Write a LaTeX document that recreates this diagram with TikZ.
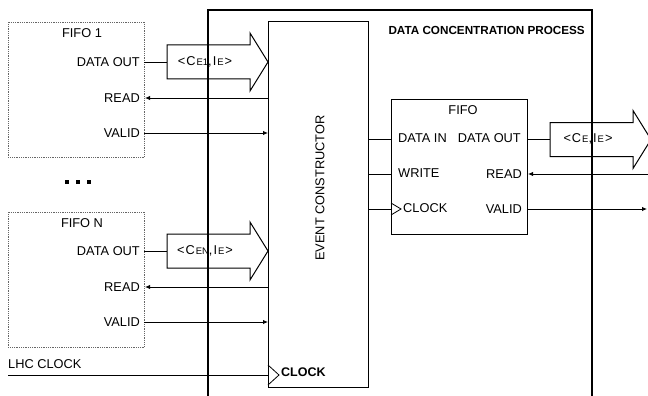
\documentclass[tikz,border=0pt]{standalone}
\usepackage{fontspec}
\setmainfont{Liberation Sans}
\usetikzlibrary{arrows.meta}
\newcommand{\smallsub}[1]{{\fontsize{9.5}{10}\selectfont #1}}
\newcommand{\kk}{\kern1pt}
\begin{document}
\begin{tikzpicture}[x=1pt,y=-1pt,
  font=\fontsize{12.8}{14}\selectfont,
  box/.style={draw, line width=1pt, inner sep=0pt},
  dotbox/.style={draw=black!60, dash pattern=on 1pt off 0.8pt, line width=0.8pt, inner sep=0pt},
  sig/.style={line width=0.9pt},
  arr/.style={sig, -{Latex[length=5pt,width=4.5pt]}},
  fat/.style={draw, line width=1pt},
  lbl/.style={inner sep=0pt},
  fatarrow/.pic={\draw[fat] (0,-17) -- (83,-17) -- (83,-29) -- (101,0) -- (83,29) -- (83,17) -- (0,17) -- cycle;},
  dotsq/.style={fill=black, minimum size=4pt, inner sep=0pt}]
\useasboundingbox (0,0) rectangle (648,396);

% ---------- source FIFOs ----------
\node[dotbox, minimum width=136pt, minimum height=135pt, anchor=north west] (f1) at (8,22) {};
\node[dotbox, minimum width=136pt, minimum height=135pt, anchor=north west] (fN) at (8,212) {};

\node[lbl] (f1t) at (82,33) {FIFO 1};
\node[lbl, anchor=east] (f1d) at (140,62) {DATA OUT};
\node[lbl, anchor=east] (f1r) at (140,98) {READ};
\node[lbl, anchor=east] (f1v) at (140,133) {VALID};

\node[lbl] (fNt) at (82,223) {FIFO N};
\node[lbl, anchor=east] (fNd) at (140,251) {DATA OUT};
\node[lbl, anchor=east] (fNr) at (140,287) {READ};
\node[lbl, anchor=east] (fNv) at (140,322) {VALID};

\node[dotsq] (d1) at (67,182) {};
\node[dotsq] (d2) at (78,182) {};
\node[dotsq] (d3) at (89,182) {};

% ---------- event constructor ----------
\node[box, minimum width=100pt, minimum height=366pt, anchor=north west] (ec) at (268,21) {};
\node[lbl, rotate=90] (ect) at (320,188) {EVENT CONSTRUCTOR};
\node[lbl, anchor=base west, font=\bfseries\fontsize{12.5}{14}\selectfont] (ecclk) at (281,376) {CLOCK};
\draw[line width=0.8pt] (268,365) -- (279,375) -- (268,385);

% ---------- FIFO ----------
\node[box, minimum width=136pt, minimum height=135pt, anchor=north west] (fifo) at (391,99) {};
\node[lbl] (fifot) at (463,110) {FIFO};
\node[lbl, anchor=west] (fdin) at (398,138) {DATA IN};
\node[lbl, anchor=east] (fdout) at (521,138) {DATA OUT};
\node[lbl, anchor=west] (fwr) at (398,173) {WRITE};
\node[lbl, anchor=east] (frd) at (522,174) {READ};
\node[lbl, anchor=west] (fclk) at (403,208) {CLOCK};
\node[lbl, anchor=east] (fval) at (522,209) {VALID};
\draw[line width=0.8pt] (391,203) -- (401,209) -- (391,215);

% ---------- fat data arrows ----------
\pic at (167,62) {fatarrow};
\pic at (167,251) {fatarrow};
\pic at (550,139.5) {fatarrow};
\node[lbl] (a1) at (205,62) {<\kk C\kk\smallsub{E1},\kk I\kk\smallsub{E}\kk>};
\node[lbl] (aN) at (205,251) {<\kk C\kk\smallsub{EN},\kk I\kk\smallsub{E}\kk>};
\node[lbl] (ao) at (588,139) {<\kk C\kk\smallsub{E},\kk I\kk\smallsub{E}\kk>};

% ---------- coordinates ----------
\coordinate (f1out) at (144,62);  \coordinate (a1in) at (167,62);
\coordinate (fNout) at (144,251); \coordinate (aNin) at (167,251);
\coordinate (f1rd) at (145,98);   \coordinate (ecr1) at (268,98);
\coordinate (f1vl) at (144,133);  \coordinate (ecv1) at (268,133);
\coordinate (fNrd) at (145,287);  \coordinate (ecrN) at (268,287);
\coordinate (fNvl) at (144,322);  \coordinate (ecvN) at (268,322);
\coordinate (lhc) at (8,375);     \coordinate (ecck) at (268,375);
\coordinate (ecdo) at (368,139);  \coordinate (fdi) at (391,139);
\coordinate (ecwr) at (368,174);  \coordinate (fwi) at (391,174);
\coordinate (ecco) at (368,209);  \coordinate (fci) at (391,209);
\coordinate (fdo) at (527,139);   \coordinate (aoin) at (550,139);
\coordinate (frdp) at (528,174);  \coordinate (rdext) at (648,174);
\coordinate (fvlp) at (527,209);  \coordinate (vlext) at (647,209);

% ---------- connectors ----------
\draw[sig] (f1out) -- (a1in);
\draw[sig] (fNout) -- (aNin);
\draw[arr] (ecr1) -- (f1rd);
\draw[arr] (f1vl) -- (ecv1);
\draw[arr] (ecrN) -- (fNrd);
\draw[arr] (fNvl) -- (ecvN);
\draw[sig] (lhc) -- (ecck);
\node[lbl, anchor=west] (lhct) at (8,364) {LHC CLOCK};
\draw[sig] (ecdo) -- (fdi);
\draw[sig] (ecwr) -- (fwi);
\draw[sig] (ecco) -- (fci);
\draw[sig] (fdo) -- (aoin);
\draw[arr] (rdext) -- (frdp);
\draw[arr] (fvlp) -- (vlext);

% ---------- process frame ----------
\draw[line width=1.6pt] (208,396) -- (208,10) -- (592,10) -- (592,396);
\node[lbl, anchor=east, font=\bfseries\fontsize{11.7}{13}\selectfont] (dcp) at (585,30) {DATA CONCENTRATION PROCESS};
\end{tikzpicture}
\end{document}
